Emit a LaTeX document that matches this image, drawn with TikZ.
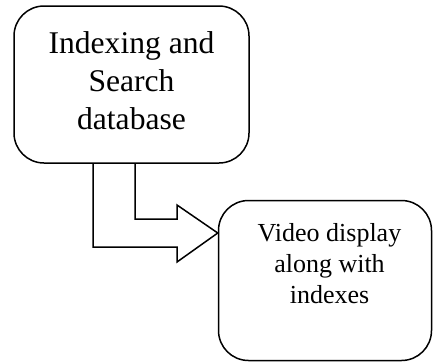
\documentclass[tikz,border=0pt]{standalone}
\usepackage{fontspec}
\setmainfont{Liberation Serif}
\begin{document}
\begin{tikzpicture}[x=1pt,y=-1pt,
  boxstyle/.style={draw=black,line width=1.5pt,rounded corners=30pt,inner sep=0pt},
  bigtext/.style={align=center,inner sep=0pt,font=\fontsize{31.6}{38}\selectfont},
  smalltext/.style={align=center,inner sep=0pt,font=\fontsize{26}{31}\selectfont},
  blockarrow/.style={draw=black,line width=1.5pt,line join=miter}]
\useasboundingbox (0,0) rectangle (433,362);
\node[boxstyle,minimum width=235pt,minimum height=157pt] (box1) at (131.5,84.5) {};
\node[boxstyle,minimum width=213pt,minimum height=160pt] (box2) at (325,280.5) {};
\node[bigtext] (txt1) at (131.5,80.5) {Indexing and\\Search\\database};
\node[smalltext] (txt2) at (329.5,264) {Video display\\along with\\indexes};
\coordinate (tip) at (box2.west |- 0,233);
\draw[blockarrow] (93,163) -- (93,247) -- (177,247) -- (177,262) -- (tip)
  -- (177,205) -- (177,219) -- (135,219) -- (135,163);
\end{tikzpicture}
\end{document}
